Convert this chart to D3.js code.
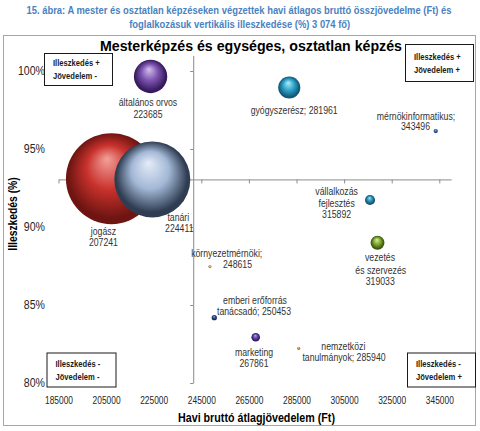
<!DOCTYPE html>
<html>
<head>
<meta charset="utf-8">
<script src="https://cdn.jsdelivr.net/npm/d3@7"></script>
<style>
  html, body { margin: 0; padding: 0; background: #fff; }
  svg { display: block; }
  text { font-family: "Liberation Sans", Arial, sans-serif; }
</style>
</head>
<body>
<svg id="chart" width="480" height="431"></svg>
<script>
// values
const names = ["jogász", "tanári", "általános orvos", "gyógyszerész", "mérnökinformatikus",
  "vállalkozás fejlesztés", "vezetés és szervezés", "környezetmérnöki",
  "emberi erőforrás tanácsadó", "marketing", "nemzetközi tanulmányok"];
const incomes = [207241, 224411, 223685, 281961, 343496, 315892, 319033, 248615, 250453, 267861, 285940];
const fitPct = [93.1, 93.05, 99.65, 98.94, 96.15, 91.73, 88.99, 87.46, 84.19, 82.93, 82.22];
const counts = [900, 628, 121, 53, 2, 11, 21, 1, 3, 8, 1];
// data label text, "#" = income
const labelText = ["jogász\n#", "tanári\n#", "általános orvos\n#", "gyógyszerész; #",
  "mérnökinformatikus;\n#", "vállalkozás\nfejlesztés\n#", "vezetés\nés szervezés\n#",
  "környezetmérnöki;\n#", "emberi erőforrás\ntanácsadó; #", "marketing\n#", "nemzetközi\ntanulmányok; #"];

const xTicks = [185000, 205000, 225000, 245000, 265000, 285000, 305000, 325000, 345000];
const yTicks = [80, 85, 90, 95, 100];
const xDomain = [185000, 350000];
const yDomain = [80, 101];
const crossX = 241600;   // y axis crosses here
const crossY = 93.05;    // x axis crosses here

const quadrants = [
  { lines: ["Illeszkedés +", "Jövedelem -"], x: 44, y: 53, w: 68, h: 32 },
  { lines: ["Illeszkedés +", "Jövedelem +"], x: 405, y: 44, w: 68, h: 37 },
  { lines: ["Illeszkedés -", "Jövedelem -"], x: 46.5, y: 352.5, w: 69, h: 34 },
  { lines: ["Illeszkedés -", "Jövedelem +"], x: 407, y: 352.5, w: 68, h: 34 }
];

// sphere colours: [highlight, base, edge]
const palette = [
  ["#f4a09a", "#c8312c", "#6e1512"],
  ["#e4ecf7", "#a3b8d6", "#2f3d52"],
  ["#d6c0f0", "#7d55b0", "#371a5e"],
  ["#b4ecf8", "#2fa6cc", "#10587a"],
  ["#9ab8ea", "#3a66b0", "#1a3468"],
  ["#a8e0f4", "#2b90b8", "#0f4e6e"],
  ["#d8f0a0", "#7ea832", "#3a5510"],
  ["#f0e4c0", "#cbb27c", "#8a7040"],
  ["#90a8d8", "#2e4c8c", "#142650"],
  ["#bca4e4", "#6244a4", "#2a1860"],
  ["#f8d0a0", "#e59440", "#9a5a18"]
];

// label placement relative to bubble centre (px), one [dx, dy] per line
const labelOffsets = [
  [[-8, 52.5], [-8, 63.5]],
  [[26, 38], [27, 49]],
  [[-2.6, 26.5], [-2.6, 38.5]],
  [[4.9, 23.2]],
  [[-19.7, -15], [-20.2, -5]],
  [[-33.4, -8.3], [-33.4, 3], [-33.4, 14]],
  [[2.5, 15], [3.2, 27.3], [2.8, 39]],
  [[16.8, -13.4], [27.6, -1.7]],
  [[40.7, -16.7], [39.7, -6]],
  [[-1.7, 15.4], [-1.7, 26]],
  [[44.6, -1.6], [45.3, 9.4]]
];

// squeeze a text to a given width (source font is narrower than Arial)
function squeeze(sel, width) {
  sel.attr("textLength", width).attr("lengthAdjust", "spacingAndGlyphs");
}
function condense(sel, f) {
  sel.each(function () {
    const w = this.getComputedTextLength();
    d3.select(this).attr("textLength", w * f).attr("lengthAdjust", "spacingAndGlyphs");
  });
}

const svg = d3.select("#chart");

const x = d3.scaleLinear().domain(xDomain).range([58.5, 451.2]);
const y = d3.scaleLinear().domain(yDomain).range([383, 55.4]);
const r = d3.scaleSqrt().domain([0, d3.max(counts)]).range([0, 45.5]);

// page caption
svg.append("text")
  .attr("x", 239).attr("y", 13.5)
  .attr("text-anchor", "middle")
  .attr("font-size", 10).attr("font-weight", "bold")
  .attr("fill", "#4a82bf")
  .text("15. ábra: A mester és osztatlan képzéseken végzettek havi átlagos bruttó összjövedelme (Ft) és")
  .call(squeeze, 425);
svg.append("text")
  .attr("x", 239.7).attr("y", 28)
  .attr("text-anchor", "middle")
  .attr("font-size", 10).attr("font-weight", "bold")
  .attr("fill", "#4a82bf")
  .text("foglalkozásuk vertikális illeszkedése (%) 3 074 fő)")
  .call(squeeze, 221);

// chart frame
svg.append("rect")
  .attr("x", 3.5).attr("y", 35.5).attr("width", 472).attr("height", 390)
  .attr("fill", "#fff").attr("stroke", "#a6a6a6");

svg.append("text")
  .attr("x", 251).attr("y", 50.5)
  .attr("text-anchor", "middle")
  .attr("font-size", 15.5).attr("font-weight", "bold")
  .attr("fill", "#000")
  .text("Mesterképzés és egységes, osztatlan képzés")
  .call(squeeze, 302);

// gradients
const defs = svg.append("defs");
palette.forEach((c, i) => {
  const g = defs.append("radialGradient")
    .attr("id", "sph" + i)
    .attr("cx", "50%").attr("cy", "50%").attr("r", "55%")
    .attr("fx", "45%").attr("fy", "28%");
  g.append("stop").attr("offset", "0%").attr("stop-color", c[0]);
  g.append("stop").attr("offset", "45%").attr("stop-color", c[1]);
  g.append("stop").attr("offset", "85%").attr("stop-color", c[2]);
  g.append("stop").attr("offset", "100%").attr("stop-color", c[2]);
});

// axis lines at the crossing points
const xAxisLine = svg.append("g")
  .attr("transform", `translate(0,${y(crossY)})`)
  .call(d3.axisBottom(x).tickValues(xTicks).tickSize(4).tickSizeOuter(0).tickFormat(""));
const yAxisLine = svg.append("g")
  .attr("transform", `translate(${x(crossX)},0)`)
  .call(d3.axisLeft(y).tickValues(yTicks).tickSize(3).tickSizeOuter(0).tickFormat(""));
[xAxisLine, yAxisLine].forEach(g => {
  g.selectAll("path, line").attr("stroke", "#8c8c8c");
});

// tick labels at the low edges
const xLabels = svg.append("g")
  .attr("transform", "translate(0,393)")
  .call(d3.axisBottom(x).tickValues(xTicks).tickSize(0).tickFormat(d3.format("d")));
xLabels.select(".domain").remove();
xLabels.selectAll("text").attr("font-size", 11.5).attr("fill", "#262626")
  .attr("font-family", null)
  .call(squeeze, 28);

const yLabels = svg.append("g")
  .attr("transform", "translate(45,0)")
  .call(d3.axisLeft(y).tickValues(yTicks).tickSize(0).tickPadding(0).tickFormat(d => d + "%"));
yLabels.select(".domain").remove();
yLabels.selectAll("text").attr("font-size", 12).attr("fill", "#262626")
  .attr("font-family", null)
  .call(condense, 0.88);

// axis titles
svg.append("text")
  .attr("x", 256.5).attr("y", 422)
  .attr("text-anchor", "middle")
  .attr("font-size", 12).attr("font-weight", "bold")
  .text("Havi bruttó átlagjövedelem (Ft)")
  .call(squeeze, 157);
svg.append("text")
  .attr("transform", "translate(17,214) rotate(-90)")
  .attr("text-anchor", "middle")
  .attr("font-size", 12).attr("font-weight", "bold")
  .text("Illeszkedés (%)")
  .call(condense, 0.86);

// bubbles
const points = names.map((n, i) => ({
  name: n, income: incomes[i], fit: fitPct[i], count: counts[i], i
}));

svg.append("g").selectAll("circle")
  .data(points)
  .join("circle")
  .attr("cx", d => x(d.income))
  .attr("cy", d => y(d.fit))
  .attr("r", d => r(d.count))
  .attr("fill", d => `url(#sph${d.i})`);

// data labels
const lab = svg.append("g")
  .attr("font-size", 10).attr("fill", "#333");
points.forEach(d => {
  const lines = labelText[d.i].replace("#", d.income).split("\n");
  lines.forEach((t, k) => {
    const [dx, dy] = labelOffsets[d.i][k];
    lab.append("text")
      .attr("x", x(d.income) + dx)
      .attr("y", y(d.fit) + dy)
      .attr("dy", "0.35em")
      .attr("text-anchor", "middle")
      .text(t)
      .call(condense, 0.87);
  });
});

// quadrant boxes
const qb = svg.append("g");
quadrants.forEach(q => {
  qb.append("rect")
    .attr("x", q.x + 0.5).attr("y", q.y + 0.5)
    .attr("width", q.w).attr("height", q.h)
    .attr("fill", "#fff").attr("stroke", "#1a1a1a");
  q.lines.forEach((t, k) => {
    qb.append("text")
      .attr("x", q.x + 9)
      .attr("y", q.y + q.h / 2 + (k === 0 ? -6 : 7))
      .attr("dy", "0.35em")
      .attr("font-size", 9.5).attr("font-weight", "bold")
      .attr("fill", "#1a1a1a")
      .text(t)
      .call(condense, 0.8);
  });
});
</script>
</body>
</html>
